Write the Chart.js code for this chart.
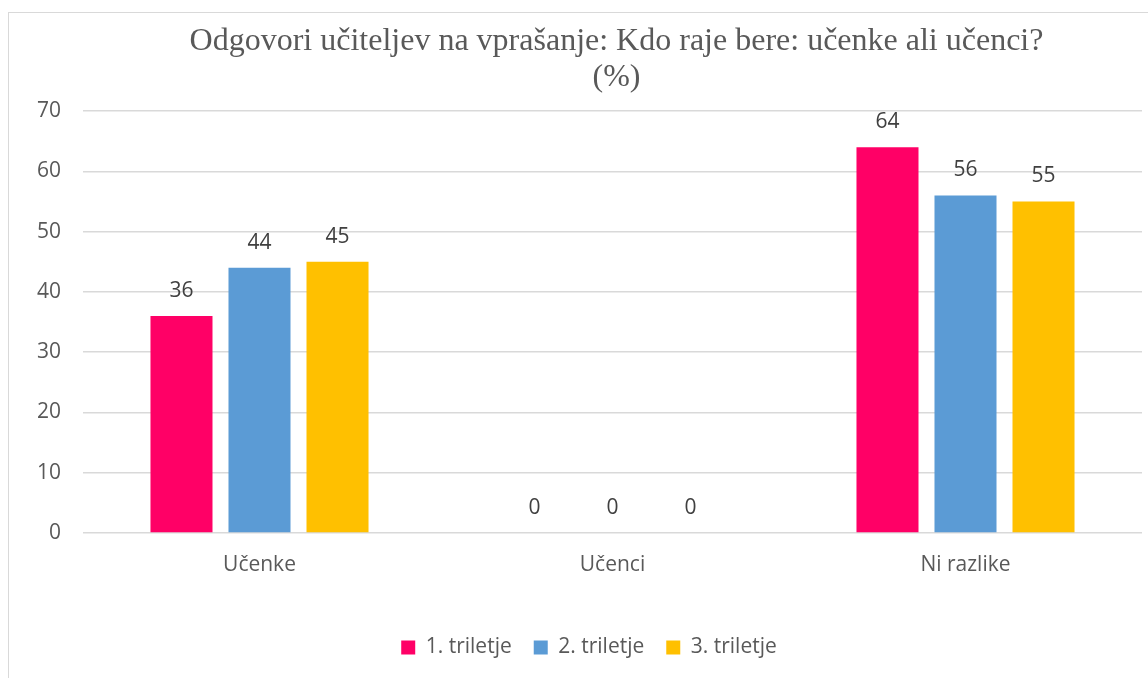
<!DOCTYPE html>
<html>
<head>
<meta charset="utf-8">
<script src="https://cdn.jsdelivr.net/npm/chart.js@4"></script>
<style>
  html, body { margin: 0; padding: 0; background: #fff; overflow: hidden; }
  #frame { position: absolute; left: 8px; top: 12px; width: 1300px; height: 800px; border: 1px solid #d9d9d9; }
  #wrap { position: absolute; left: 0; top: 0; width: 1148px; height: 678px; }
</style>
</head>
<body>
<div id="frame"></div>
<div id="wrap"><canvas id="teacherChart"></canvas></div>
<script>
const categories = ["Učenke", "Učenci", "Ni razlike"];
const seriesNames = ["1. triletje", "2. triletje", "3. triletje"];
const triletje1 = [36, 0, 64];
const triletje2 = [44, 0, 56];
const triletje3 = [45, 0, 55];
const titleLines = ["Odgovori učiteljev na vprašanje: Kdo raje bere: učenke ali učenci?", "(%)"];

const colors = ["#FF0066", "#5B9BD5", "#FFC000"];

// value labels above bars
const barLabels = {
  id: "barLabels",
  afterDatasetsDraw(chart) {
    const c = chart.ctx;
    c.save();
    c.font = "21px 'Open Sans'";
    c.fillStyle = "#404040";
    c.textAlign = "center";
    c.textBaseline = "middle";
    chart.data.datasets.forEach((ds, i) => {
      chart.getDatasetMeta(i).data.forEach((bar, j) => {
        c.fillText(ds.data[j], bar.x, bar.y - 25);
      });
    });
    c.restore();
  }
};

// title centred on the plot area
const plotTitle = {
  id: "plotTitle",
  afterDraw(chart) {
    const c = chart.ctx;
    const a = chart.chartArea;
    const cx = (a.left + a.right) / 2 + 4;
    c.save();
    c.font = "32px 'Liberation Serif'";
    c.fillStyle = "#595959";
    c.textAlign = "center";
    c.textBaseline = "middle";
    titleLines.forEach((t, k) => c.fillText(t, cx, 42 + k * 36));
    c.restore();
  }
};

const ctx = document.getElementById("teacherChart").getContext("2d");
new Chart(ctx, {
  type: "bar",
  data: {
    labels: categories,
    datasets: [triletje1, triletje2, triletje3].map((d, i) => ({
      label: seriesNames[i],
      data: d,
      backgroundColor: colors[i],
      borderWidth: 0,
      categoryPercentage: 0.663,
      barPercentage: 0.795
    }))
  },
  options: {
    responsive: true,
    maintainAspectRatio: false,
    animation: false,
    layout: { padding: { left: 36, right: 6, top: 111, bottom: 10 } },
    plugins: {
      title: { display: false },
      tooltip: { enabled: false },
      legend: {
        position: "bottom",
        labels: {
          color: "#595959",
          font: { family: "'Open Sans'", size: 21 },
          boxWidth: 14,
          boxHeight: 14,
          padding: 22
        }
      }
    },
    scales: {
      x: {
        grid: { display: false },
        border: { display: false },
        ticks: { color: "#595959", font: { family: "'Open Sans'", size: 21 }, padding: 11 },
        afterFit(scale) { scale.height = 82; }
      },
      y: {
        min: 0,
        max: 70,
        ticks: { stepSize: 10, color: "#595959", font: { family: "'Open Sans'", size: 21 }, padding: 22 },
        grid: { color: "#d9d9d9", lineWidth: 1.5, drawTicks: false },
        border: { display: false },
        afterFit(scale) { scale.width = 47; }
      }
    }
  },
  plugins: [barLabels, plotTitle]
});
</script>
</body>
</html>
